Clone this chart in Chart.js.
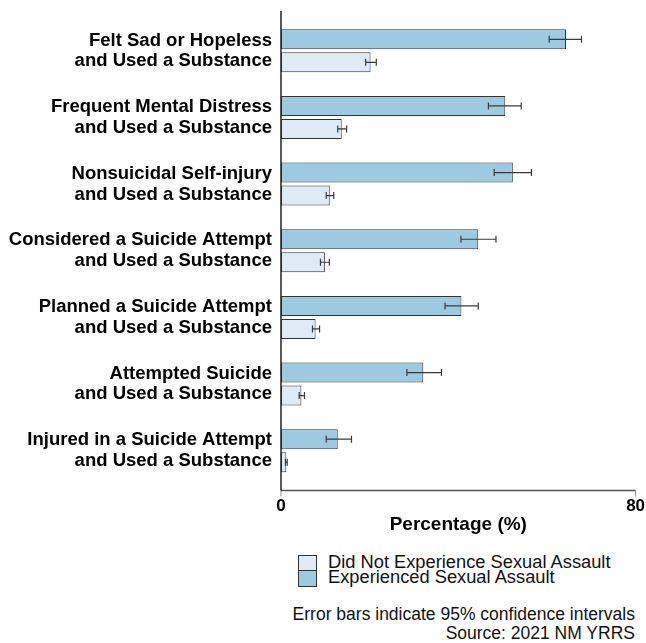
<!DOCTYPE html>
<html>
<head>
<meta charset="utf-8">
<script src="https://cdn.jsdelivr.net/npm/chart.js@4/dist/chart.umd.min.js"></script>
<style>
  html, body { margin: 0; padding: 0; background: #fff; }
  body { width: 646px; height: 643px; position: relative; overflow: hidden;
         font-family: "Liberation Sans", Arial, sans-serif; color: #111; }
  #wrap { position: absolute; left: 0; top: 0; width: 646px; height: 540px; }
  .leg { position: absolute; left: 298px; font-size: 18.3px; }
  .leg .row { position: relative; height: 15.7px; }
  .leg .box { position: absolute; left: 0; top: 0; width: 17px; height: 15px; border: 1px solid #333; }
  .leg .txt { position: absolute; left: 30px; top: -3px; line-height: 20px; white-space: nowrap; }
  .note { position: absolute; right: 11px; text-align: right; font-size: 17.5px; line-height: 19px; white-space: nowrap; }
</style>
</head>
<body>
<div id="wrap"><canvas id="c" width="646" height="540"></canvas></div>
<div class="leg" id="legend" style="top:554.5px"></div>
<div class="note" style="top:605px">Error bars indicate 95% confidence intervals<br>Source: 2021 NM YRRS</div>
<script>
// ---- Data ----
const categories = [
  ["Felt Sad or Hopeless", "and Used a Substance"],
  ["Frequent Mental Distress", "and Used a Substance"],
  ["Nonsuicidal Self-injury", "and Used a Substance"],
  ["Considered a Suicide Attempt", "and Used a Substance"],
  ["Planned a Suicide Attempt", "and Used a Substance"],
  ["Attempted Suicide", "and Used a Substance"],
  ["Injured in a Suicide Attempt", "and Used a Substance"]
];
const seriesNames = ["Did Not Experience Sexual Assault", "Experienced Sexual Assault"];
const expValues = [64.3, 50.6, 52.3, 44.5, 40.7, 32.1, 12.8];
const expLow    = [60.5, 46.8, 48.1, 40.6, 37.0, 28.4, 10.2];
const expHigh   = [67.8, 54.2, 56.5, 48.5, 44.5, 36.2, 15.9];
const notValues = [20.2, 13.7, 11.0, 9.9, 7.8, 4.6, 1.2];
const notLow    = [19.1, 12.8, 10.2, 8.9, 7.1, 4.1, 1.0];
const notHigh   = [21.5, 14.8, 11.9, 10.9, 8.7, 5.3, 1.4];
const xTicks = [0, 80];
const axisTitle = "Percentage (%)";

const colNot = "#deebf7";
const colExp = "#9ecae1";

// ---- Legend (HTML) ----
const legendEl = document.getElementById('legend');
[[seriesNames[0], colNot], [seriesNames[1], colExp]].forEach(([name, col]) => {
  const row = document.createElement('div'); row.className = 'row';
  const b = document.createElement('div'); b.className = 'box'; b.style.background = col;
  const t = document.createElement('div'); t.className = 'txt'; t.textContent = name;
  row.appendChild(b); row.appendChild(t); legendEl.appendChild(row);
});

const FONT = '"Liberation Sans", Arial, sans-serif';

const errorBars = {
  id: 'errorBars',
  afterDatasetsDraw(chart) {
    const ctx = chart.ctx, xs = chart.scales.x;
    chart.data.datasets.forEach((ds, di) => {
      const meta = chart.getDatasetMeta(di);
      meta.data.forEach((bar, i) => {
        const x1 = xs.getPixelForValue(ds.errLow[i]);
        const x2 = xs.getPixelForValue(ds.errHigh[i]);
        const y = bar.y;
        ctx.save();
        ctx.strokeStyle = '#3a3a3a';
        ctx.lineWidth = 1.2;
        ctx.beginPath();
        ctx.moveTo(x1, y); ctx.lineTo(x2, y);
        ctx.moveTo(x1, y - 3.5); ctx.lineTo(x1, y + 3.5);
        ctx.moveTo(x2, y - 3.5); ctx.lineTo(x2, y + 3.5);
        ctx.stroke();
        ctx.restore();
      });
    });
  }
};

const axisLines = {
  id: 'axisLines',
  afterDatasetsDraw(chart) {
    const ctx = chart.ctx, a = chart.chartArea, xs = chart.scales.x;
    const ext = 6.5;
    const x0 = xs.getPixelForValue(xTicks[0]);
    const yb = a.bottom + ext;
    ctx.save();
    ctx.strokeStyle = '#555';
    ctx.lineWidth = 1.3;
    ctx.beginPath();
    ctx.moveTo(x0, yb); ctx.lineTo(a.right, yb);
    ctx.stroke();
    ctx.strokeStyle = '#888';
    ctx.lineWidth = 1;
    ctx.beginPath();
    xTicks.forEach(v => {
      const px = xs.getPixelForValue(v);
      ctx.moveTo(px, yb); ctx.lineTo(px, yb + 6);
    });
    ctx.stroke();
    ctx.strokeStyle = '#222';
    ctx.lineWidth = 1.5;
    ctx.beginPath();
    ctx.moveTo(x0, a.top - ext); ctx.lineTo(x0, yb);
    ctx.stroke();
    ctx.restore();
  }
};

new Chart(document.getElementById('c'), {
  type: 'bar',
  data: {
    labels: categories,
    datasets: [
      { label: seriesNames[1], data: expValues, errLow: expLow, errHigh: expHigh,
        backgroundColor: colExp, borderColor: '#333', borderWidth: 1, borderSkipped: false },
      { label: seriesNames[0], data: notValues, errLow: notLow, errHigh: notHigh,
        backgroundColor: colNot, borderColor: '#333', borderWidth: 1, borderSkipped: false }
    ]
  },
  options: {
    indexAxis: 'y',
    responsive: false,
    animation: false,
    categoryPercentage: 0.69,
    barPercentage: 0.87,
    layout: { padding: { top: 17.5, right: 10.4, left: 0, bottom: 0 } },
    plugins: { legend: { display: false }, tooltip: { enabled: false } },
    scales: {
      x: {
        type: 'linear', min: 0, max: 80,
        afterBuildTicks(s) { s.ticks = xTicks.map(v => ({ value: v })); },
        afterFit(s) { s.height = 56; s.paddingLeft = 0; s.paddingRight = 0; },
        grid: { display: false, drawTicks: false },
        border: { display: false },
        ticks: { padding: 12, color: '#000', maxRotation: 0,
                 font: { family: FONT, size: 17, weight: 'bold' } },
        title: { display: true, text: axisTitle, color: '#000',
                 font: { family: FONT, size: 19, weight: 'bold' },
                 padding: { top: 0, bottom: 3.5 } }
      },
      y: {
        afterFit(s) { s.width = 281; s.paddingTop = 0; s.paddingBottom = 0; },
        grid: { display: false, drawTicks: false },
        border: { display: false },
        ticks: { padding: 9, color: '#000', autoSkip: false,
                 font: { family: FONT, size: 18.5, weight: 'bold', lineHeight: 1.12 } }
      }
    }
  },
  plugins: [errorBars, axisLines]
});
</script>
</body>
</html>
